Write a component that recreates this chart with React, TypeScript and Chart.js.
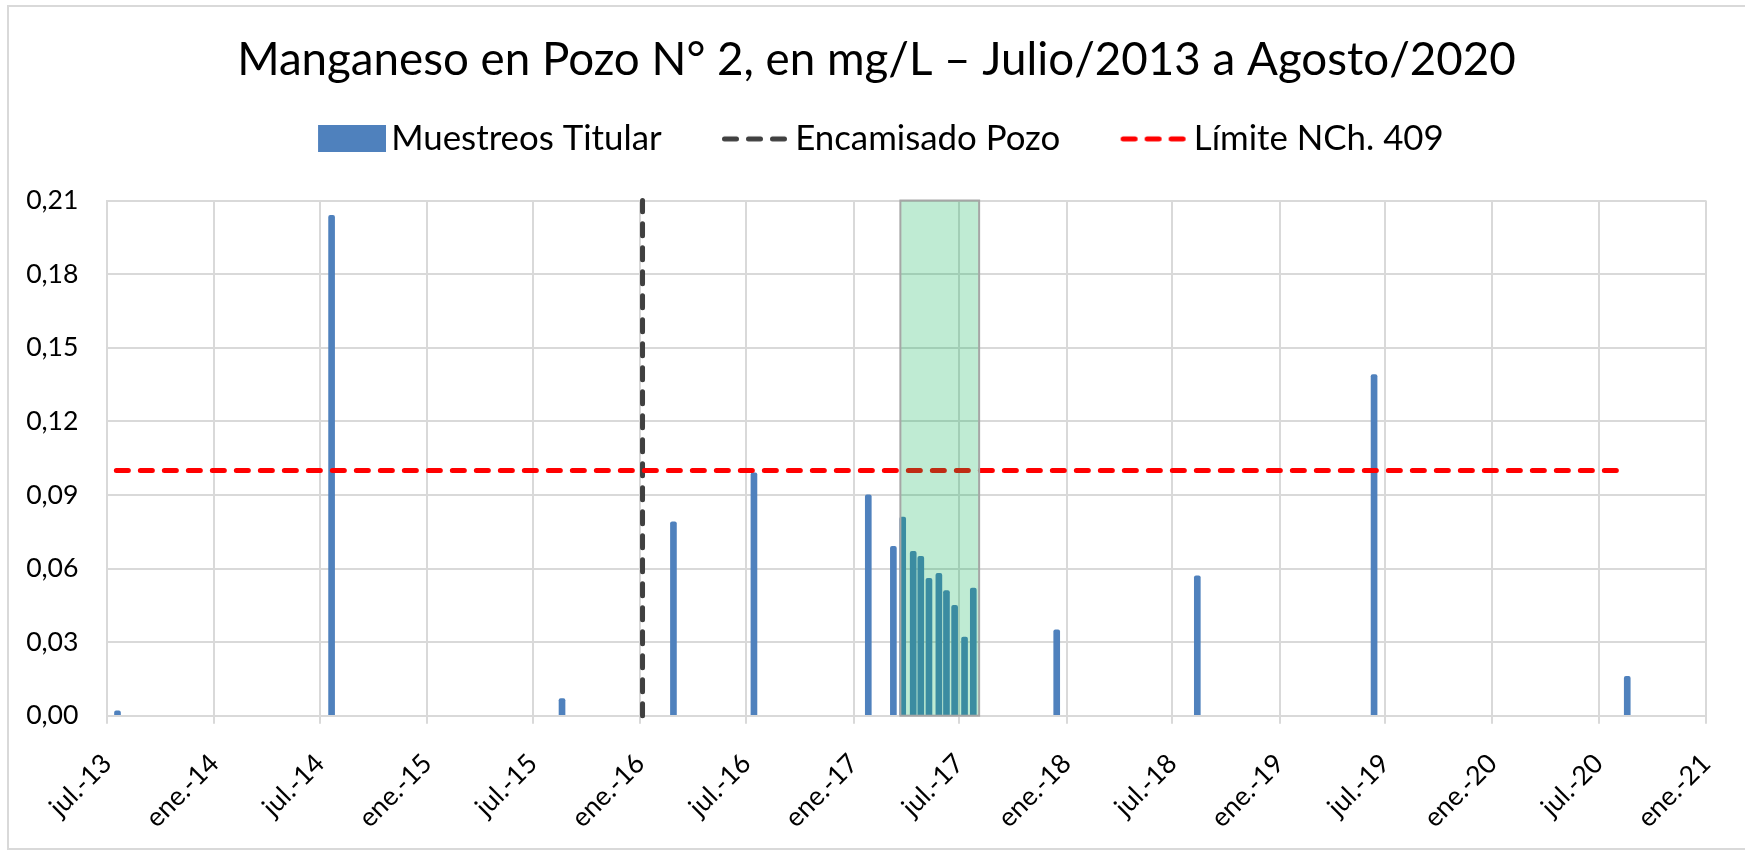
import React, { useEffect, useRef } from 'react';
import { Chart, registerables } from 'chart.js';

Chart.register(...registerables);

// ---------- DATA ----------
const sampleDates = [
  '2013-07-19', '2014-07-21', '2015-08-20', '2016-02-27', '2016-07-14',
  '2017-01-26', '2017-03-10', '2017-03-26', '2017-04-13', '2017-04-26',
  '2017-05-10', '2017-05-27', '2017-06-09', '2017-06-23', '2017-07-10',
  '2017-07-25', '2017-12-15', '2018-08-13', '2019-06-12', '2020-08-19',
];
const sampleValues = [
  0.002, 0.204, 0.007, 0.079, 0.099,
  0.090, 0.069, 0.081, 0.067, 0.065,
  0.056, 0.058, 0.051, 0.045, 0.032,
  0.052, 0.035, 0.057, 0.139, 0.016,
];
const casingDates = ['2016-01-05', '2016-01-05'];
const casingValues = [0, 0.21];
const limitDates = ['2013-07-17', '2020-08-06'];
const limitValues = [0.1, 0.1];
const highlightDates = ['2017-03-22', '2017-08-04'];
const highlightValues = [0, 0.21];

const xTickDates = [
  '2013-07-01', '2014-01-01', '2014-07-01', '2015-01-01', '2015-07-01',
  '2016-01-01', '2016-07-01', '2017-01-01', '2017-07-01', '2018-01-01',
  '2018-07-01', '2019-01-01', '2019-07-01', '2020-01-01', '2020-07-01',
  '2021-01-01',
];
const xTickLabels = [
  'jul.-13', 'ene.-14', 'jul.-14', 'ene.-15', 'jul.-15',
  'ene.-16', 'jul.-16', 'ene.-17', 'jul.-17', 'ene.-18',
  'jul.-18', 'ene.-19', 'jul.-19', 'ene.-20', 'jul.-20',
  'ene.-21',
];
const yTicks = [0, 0.03, 0.06, 0.09, 0.12, 0.15, 0.18, 0.21];

const seriesLabels = ['Muestreos Titular', 'Encamisado Pozo', 'Límite NCh. 409'];
const titleText = 'Manganeso en Pozo N° 2, en mg/L – Julio/2013 a Agosto/2020';

// ---------- STYLE ----------
const FAMILY = 'Lato';
const BLUE = '#4F81BD';
const GRID = '#D9D9D9';
const SAMPLE_W = 68;

const dayNum = (s: string) => {
  const [y, m, d] = s.split('-').map(Number);
  return Date.UTC(y, m - 1, d) / 864e5;
};

function fitSize(texts: string[], target: number) {
  const c = document.createElement('canvas').getContext('2d')!;
  c.font = `normal 100px ${FAMILY}`;
  let w = 0;
  texts.forEach((t) => (w += c.measureText(t).width));
  return (100 * target) / w;
}

// legend sample image: content occupies the right SAMPLE_W px of an image of width w
function makeSample(w: number, kind: 'rect' | 'line', color: string, lineWidth = 0, dash: number[] = []) {
  const c = document.createElement('canvas');
  const h = kind === 'rect' ? 27 : 12;
  c.width = Math.round(w);
  c.height = h;
  const ctx = c.getContext('2d')!;
  const x0 = c.width - SAMPLE_W;
  if (kind === 'rect') {
    ctx.fillStyle = color;
    ctx.fillRect(x0, 0, SAMPLE_W, h);
  } else {
    ctx.strokeStyle = color;
    ctx.lineWidth = lineWidth;
    ctx.lineCap = 'round';
    ctx.setLineDash(dash);
    ctx.beginPath();
    ctx.moveTo(x0 + lineWidth / 2, h / 2);
    ctx.lineTo(c.width, h / 2);
    ctx.stroke();
  }
  return c;
}

export default function App() {
  const ref = useRef<HTMLCanvasElement | null>(null);

  useEffect(() => {
    const titleSize = fitSize([titleText], 1279);
    const legendSize = fitSize(seriesLabels, 786);
    const tickSize = fitSize(['0,21'], 52.4);

    const legendPad = 60.5;
    const legendBox = 73 - legendSize / 2;
    const imgW = 2 * (SAMPLE_W - legendBox / 2);
    const titleH = 138 - legendPad - legendSize / 2;
    const titleLH = Math.max(2, 2 * (titleH - 60));
    const titleTop = 60 - titleLH / 2;

    const layoutPlugin = {
      id: 'layoutTweaks',
      beforeInit(chart: any) {
        const orig = chart.legend.fit;
        chart.legend.fit = function () {
          orig.bind(chart.legend)();
          this.height = 199.6 - titleH;
        };
      },
      afterLayout(chart: any) {
        const t = chart.titleBlock;
        if (t) {
          t.left = 47;
          t.width = t.right - t.left;
        }
        const l = chart.legend;
        if (l) {
          l.left = 56;
          l.width = l.right - l.left;
        }
      },
    };

    const highlightPlugin = {
      id: 'highlight',
      afterDatasetsDraw(chart: any) {
        const { ctx, scales } = chart;
        const x0 = scales.x.getPixelForValue(dayNum(highlightDates[0]));
        const x1 = scales.x.getPixelForValue(dayNum(highlightDates[1]));
        const y0 = scales.y.getPixelForValue(highlightValues[1]);
        const y1 = scales.y.getPixelForValue(highlightValues[0]);
        ctx.save();
        ctx.fillStyle = 'rgba(0,176,80,0.25)';
        ctx.fillRect(x0, y0, x1 - x0, y1 - y0);
        ctx.strokeStyle = '#A6A6A6';
        ctx.lineWidth = 2;
        ctx.strokeRect(x0, y0, x1 - x0, y1 - y0);
        ctx.restore();
      },
    };

    const chart = new Chart(ref.current!, {
      type: 'bar',
      data: {
        datasets: [
          {
            type: 'bar',
            label: seriesLabels[0],
            data: sampleDates.map((d, i) => ({ x: dayNum(d), y: sampleValues[i] })),
            backgroundColor: BLUE,
            barThickness: 6,
            borderRadius: { topLeft: 2, topRight: 2, bottomLeft: 0, bottomRight: 0 },
            order: 3,
          } as any,
          {
            type: 'line',
            label: seriesLabels[1],
            data: casingDates.map((d, i) => ({ x: dayNum(d), y: casingValues[i] })),
            borderColor: '#404040',
            borderWidth: 5,
            borderDash: [12, 12],
            borderCapStyle: 'round',
            pointRadius: 0,
            fill: false,
            clip: false,
            order: 2,
          } as any,
          {
            type: 'line',
            label: seriesLabels[2],
            data: limitDates.map((d, i) => ({ x: dayNum(d), y: limitValues[i] })),
            borderColor: '#FF0000',
            borderWidth: 5,
            borderDash: [12, 12],
            borderCapStyle: 'round',
            pointRadius: 0,
            fill: false,
            clip: false,
            order: 1,
          } as any,
        ],
      },
      options: {
        animation: false,
        responsive: false,
        devicePixelRatio: 1,
        events: [],
        layout: { padding: { left: 0, right: 39, top: 0, bottom: 0 } },
        plugins: {
          tooltip: { enabled: false },
          title: {
            display: true,
            text: titleText,
            color: '#000',
            font: { family: FAMILY, size: titleSize, weight: 'normal', lineHeight: `${titleLH}px` } as any,
            padding: { top: titleTop, bottom: 0 },
          },
          legend: {
            display: true,
            position: 'top',
            labels: {
              color: '#000',
              font: { family: FAMILY, size: legendSize },
              usePointStyle: true,
              pointStyleWidth: legendBox,
              boxHeight: 27,
              padding: legendPad,
              generateLabels: (ch: any) =>
                ch.data.datasets.map((ds: any, i: number) => ({
                  text: ds.label,
                  fillStyle: 'rgba(0,0,0,0)',
                  strokeStyle: 'rgba(0,0,0,0)',
                  lineWidth: 0,
                  pointStyle:
                    i === 0
                      ? makeSample(imgW, 'rect', ds.backgroundColor)
                      : makeSample(imgW, 'line', ds.borderColor, ds.borderWidth, ds.borderDash),
                  datasetIndex: i,
                  fontColor: '#000',
                })),
            },
          },
        },
        scales: {
          x: {
            type: 'linear',
            offset: false,
            min: dayNum(xTickDates[0]),
            max: dayNum(xTickDates[xTickDates.length - 1]),
            afterBuildTicks: (s: any) => {
              s.ticks = xTickDates.map((d) => ({ value: dayNum(d) }));
            },
            afterFit: (s: any) => {
              s.height = 850 - 715.7;
              s.paddingLeft = 0;
              s.paddingRight = 0;
            },
            grid: { color: GRID, lineWidth: 2, tickLength: 8, drawTicks: true, offset: false },
            border: { color: GRID, width: 2 },
            ticks: {
              autoSkip: false,
              minRotation: 45,
              maxRotation: 45,
              padding: 24,
              color: '#000',
              font: { family: FAMILY, size: tickSize },
              callback: (_v: any, i: number) => xTickLabels[i],
            },
          } as any,
          y: {
            type: 'linear',
            min: yTicks[0],
            max: yTicks[yTicks.length - 1],
            afterBuildTicks: (s: any) => {
              s.ticks = yTicks.map((v) => ({ value: v }));
            },
            afterFit: (s: any) => {
              s.width = 107;
            },
            grid: { color: GRID, lineWidth: 2, drawTicks: false },
            border: { color: GRID, width: 2 },
            ticks: {
              padding: 28.5,
              color: '#000',
              font: { family: FAMILY, size: tickSize },
              callback: (v: any) => Number(v).toFixed(2).replace('.', ','),
            },
          } as any,
        },
      },
      plugins: [layoutPlugin, highlightPlugin],
    } as any);

    return () => chart.destroy();
  }, []);

  return (
    <div style={{ position: 'fixed', left: 0, top: 0, width: 1745, height: 850, background: '#fff' }}>
      <div
        style={{
          position: 'absolute',
          left: 7,
          top: 5,
          width: 1738,
          height: 845,
          boxSizing: 'border-box',
          borderLeft: `2px solid ${GRID}`,
          borderTop: `2px solid ${GRID}`,
          borderBottom: `2px solid ${GRID}`,
        }}
      />
      <canvas ref={ref} width={1745} height={850} style={{ position: 'absolute', left: 0, top: 0 }} />
    </div>
  );
}
